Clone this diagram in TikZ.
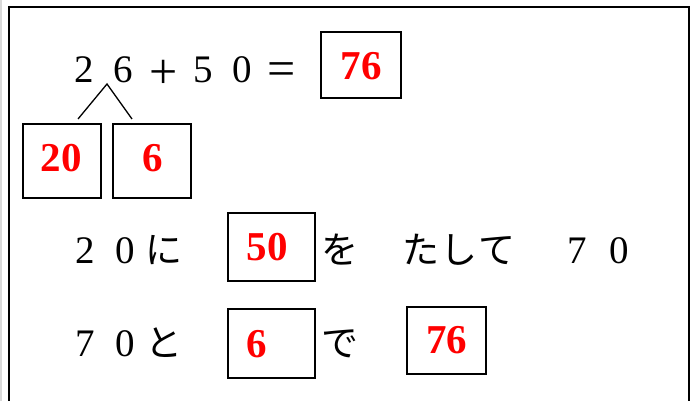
\documentclass[tikz,border=0pt]{standalone}
\usepackage{fontspec}
\newfontfamily\jpfont{Noto Sans CJK JP}
\newfontfamily\ansfont{Liberation Serif}
\definecolor{ansred}{RGB}{255,0,0}
\begin{document}
\begin{tikzpicture}[x=1pt,y=-1pt,
  txt/.style={inner sep=0pt, anchor=base, font=\ansfont\fontsize{39}{39}\selectfont},
  optxt/.style={inner sep=0pt, anchor=base, font=\ansfont\fontsize{50}{50}\selectfont},
  jtxt/.style={inner sep=0pt, anchor=base, font=\jpfont\fontsize{37}{37}\selectfont},
  ansbox/.style={draw, line width=1.4pt, inner sep=0pt},
  anstxt/.style={inner sep=0pt, text=ansred, font=\ansfont\bfseries\fontsize{41}{41}\selectfont},
  frame/.style={draw, line width=1.6pt},
  tree/.style={line width=1.3pt}]
\useasboundingbox (0,0) rectangle (697,401);
\draw[gray!30, line width=1.5pt] (1,0) -- (1,401);
\draw[frame] (9,420) -- (9,7) -- (689,7) -- (689,420);
% row 1
\node[txt] (a2) at (84.5,83) {2};
\node[txt] (a6) at (123.5,83) {6};
\node[optxt] (aplus) at (164,89) {+};
\node[txt] (a5) at (203,83) {5};
\node[txt] (a0) at (242,83) {0};
\node[optxt] (aeq) at (282,86) {=};
\node[ansbox, minimum width=80pt, minimum height=66pt] (b1) at (361,65) {};
\node[anstxt] (t1) at (361,66) {76};
% split
\coordinate (apex) at (107,84);
\coordinate (lend) at (78,119);
\coordinate (rend) at (132,119);
\draw[tree] (lend) -- (apex) -- (rend);
\node[ansbox, minimum width=78pt, minimum height=74pt] (b20) at (62,161) {};
\node[anstxt] (t20) at (61.5,158) {20};
\node[ansbox, minimum width=78pt, minimum height=74pt] (b6) at (152,161) {};
\node[anstxt] (t6) at (152.5,158) {6};
% row 3
\node[txt] (c2) at (85,263) {2};
\node[txt] (c0) at (125,263) {0};
\node[jtxt] (cni) at (164,263) {に};
\node[ansbox, minimum width=87pt, minimum height=68pt] (b50) at (271.5,247) {};
\node[anstxt] (t50) at (267,247) {50};
\node[jtxt] (cwo) at (340,263) {を};
\node[jtxt] (cta) at (421,263) {た};
\node[jtxt] (cshi) at (459,263) {し};
\node[jtxt] (cte) at (497,263) {て};
\node[txt] (c7) at (577,263) {7};
\node[txt] (c00) at (619,263) {0};
% row 4
\node[txt] (d7) at (85,356) {7};
\node[txt] (d0) at (125,356) {0};
\node[jtxt] (dto) at (164,356) {と};
\node[ansbox, minimum width=87pt, minimum height=69pt] (bd6) at (271.5,343.5) {};
\node[anstxt] (td6) at (256.5,344) {6};
\node[jtxt] (dde) at (340,356) {で};
\node[ansbox, minimum width=79pt, minimum height=67pt] (b76) at (446.5,340.5) {};
\node[anstxt] (t76) at (446.5,340.5) {76};
\end{tikzpicture}
\end{document}
